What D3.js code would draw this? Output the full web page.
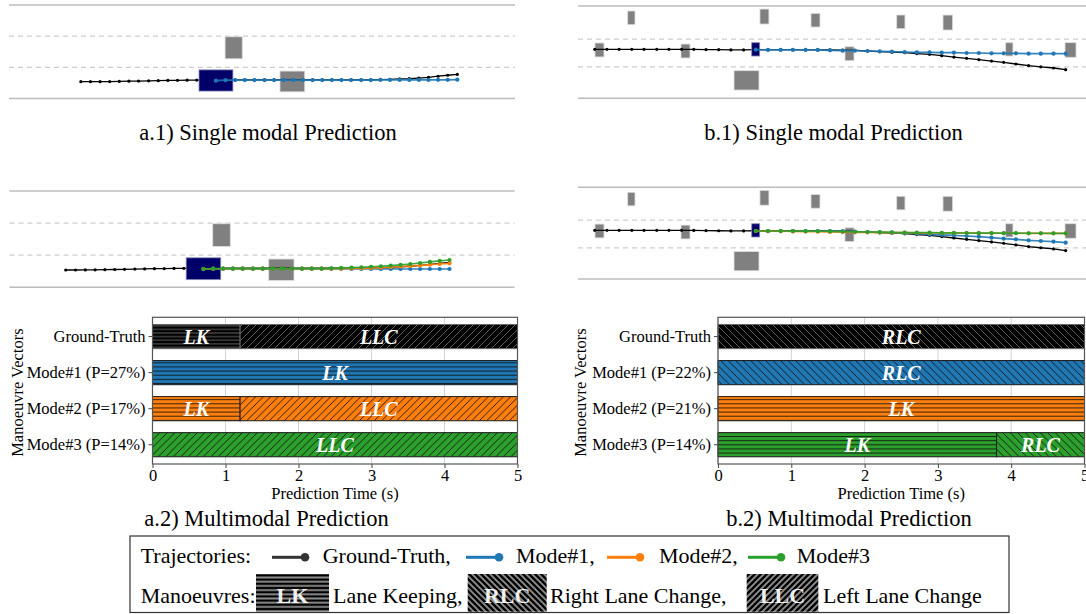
<!DOCTYPE html>
<html>
<head>
<meta charset="utf-8">
<script src="https://cdn.jsdelivr.net/npm/d3@7"></script>
<style>
  body { margin: 0; background: #fff; }
  svg { display: block; }
  text { font-family: "Liberation Serif", "Times New Roman", serif; fill: #000; }
</style>
</head>
<body>
<svg id="fig" width="1086" height="614"></svg>
<script>
// ---------- case a (left column), metres along road / lateral metres ----------
const lanesA = [0, 3.75, 7.5, 11.25];
const carsA = [
  {x: 44.4, y: 6.1, l: 3.4, w: 2.65},
  {x: 56.0, y: 2.05, l: 4.9, w: 2.5}
];
const egoA = {x: 40.9, y: 2.17, l: 6.7, w: 2.55};
const histXA = [14.2, 16.1, 18.0, 19.9, 21.8, 23.7, 25.6, 27.6, 29.5, 31.4, 33.3, 35.2, 37.1, 39.0];
const histYA = [2.02, 2.02, 2.03, 2.04, 2.06, 2.08, 2.10, 2.13, 2.15, 2.17, 2.19, 2.21, 2.22, 2.23];
const predXA = [40.9, 42.8, 44.7, 46.6, 48.5, 50.5, 52.4, 54.3, 56.2, 58.1, 60.0, 61.9, 63.8,
                65.7, 67.6, 69.6, 71.5, 73.4, 75.3, 77.2, 79.1, 81.0, 82.9, 84.8, 86.7, 88.6];
const gtYA = [2.23, 2.23, 2.23, 2.23, 2.23, 2.23, 2.23, 2.23, 2.23, 2.23, 2.23, 2.24, 2.24,
              2.24, 2.24, 2.25, 2.25, 2.27, 2.31, 2.35, 2.39, 2.46, 2.55, 2.68, 2.80, 2.90];
const singleYA = [2.14, 2.20, 2.22, 2.22, 2.22, 2.22, 2.22, 2.22, 2.22, 2.22, 2.22, 2.22, 2.22,
                  2.22, 2.22, 2.22, 2.22, 2.23, 2.23, 2.23, 2.24, 2.24, 2.24, 2.25, 2.25, 2.26];
const mode1YA = [2.14, 2.16, 2.16, 2.16, 2.16, 2.16, 2.16, 2.16, 2.16, 2.16, 2.16, 2.16, 2.16,
                 2.16, 2.16, 2.15, 2.15, 2.15, 2.15, 2.15, 2.14, 2.14, 2.14, 2.14, 2.14, 2.14];
const mode2YA = [2.14, 2.17, 2.17, 2.17, 2.17, 2.17, 2.17, 2.17, 2.17, 2.17, 2.17, 2.17, 2.17,
                 2.17, 2.18, 2.20, 2.22, 2.25, 2.30, 2.36, 2.43, 2.50, 2.57, 2.64, 2.72, 2.80];
const mode3YA = [2.14, 2.18, 2.18, 2.18, 2.18, 2.18, 2.18, 2.18, 2.18, 2.18, 2.18, 2.18, 2.18,
                 2.22, 2.26, 2.30, 2.34, 2.40, 2.46, 2.54, 2.62, 2.72, 2.84, 2.96, 3.08, 3.19];

// ---------- case b (right column) ----------
const lanesB = [0, 3.6, 6.8, 10.6];
const carsB = [
  {x: 10.5, y: 9.24, l: 1.44, w: 1.57},
  {x: 36.7, y: 9.39, l: 1.77, w: 1.72},
  {x: 46.75, y: 8.97, l: 1.77, w: 1.57},
  {x: 63.55, y: 8.78, l: 1.63, w: 1.57},
  {x: 72.8, y: 8.70, l: 1.9, w: 1.72},
  {x: 4.23, y: 5.55, l: 1.77, w: 1.6},
  {x: 21.16, y: 5.43, l: 1.77, w: 1.6},
  {x: 53.44, y: 5.12, l: 1.77, w: 1.6},
  {x: 84.9, y: 5.62, l: 1.44, w: 1.53},
  {x: 96.95, y: 5.55, l: 2.17, w: 1.68},
  {x: 33.17, y: 2.06, l: 4.92, w: 2.22}
];
const egoB = {x: 34.98, y: 5.62, l: 1.57, w: 1.53};
const histXB = [3.3, 5.7, 8.1, 10.6, 13.0, 15.5, 17.9, 20.4, 22.8, 25.2, 27.7, 30.1, 32.6];
const histYB = [5.63, 5.63, 5.63, 5.63, 5.63, 5.63, 5.63, 5.63, 5.62, 5.60, 5.58, 5.56, 5.56];
const predXB = [35.0, 37.4, 39.9, 42.3, 44.8, 47.2, 49.6, 52.1, 54.5, 57.0, 59.4, 61.8, 64.3,
                66.7, 69.2, 71.6, 74.0, 76.5, 78.9, 81.4, 83.8, 86.2, 88.7, 91.1, 93.6, 96.0];
const gtYB = [5.58, 5.58, 5.58, 5.58, 5.55, 5.55, 5.55, 5.53, 5.51, 5.43, 5.35, 5.30, 5.24,
              5.14, 5.05, 4.90, 4.74, 4.59, 4.44, 4.28, 4.13, 3.94, 3.75, 3.61, 3.48, 3.29];
const singleYB = [5.58, 5.56, 5.55, 5.55, 5.55, 5.55, 5.51, 5.47, 5.47, 5.43, 5.39, 5.35, 5.32,
                  5.28, 5.28, 5.24, 5.24, 5.20, 5.20, 5.16, 5.16, 5.16, 5.12, 5.12, 5.12, 5.12];
const mode1YB = [5.55, 5.53, 5.53, 5.53, 5.53, 5.53, 5.53, 5.51, 5.47, 5.43, 5.39, 5.36, 5.28,
                 5.24, 5.16, 5.09, 5.05, 4.97, 4.89, 4.78, 4.66, 4.59, 4.47, 4.39, 4.32, 4.20];
const mode2YB = [5.55, 5.54, 5.52, 5.50, 5.48, 5.46, 5.44, 5.42, 5.40, 5.39, 5.37, 5.36, 5.35,
                 5.34, 5.33, 5.32, 5.31, 5.31, 5.30, 5.30, 5.29, 5.29, 5.28, 5.28, 5.28, 5.28];
const mode3YB = [5.55, 5.55, 5.55, 5.54, 5.53, 5.52, 5.50, 5.48, 5.45, 5.43, 5.41, 5.39, 5.37,
                 5.36, 5.35, 5.34, 5.33, 5.32, 5.31, 5.31, 5.30, 5.30, 5.29, 5.29, 5.28, 5.28];

// ---------- manoeuvre vectors ----------
const rowsA = ['Ground-Truth', 'Mode#1 (P=27%)', 'Mode#2 (P=17%)', 'Mode#3 (P=14%)'];
const segsA = [
  [[0, 1.2, 'LK'], [1.2, 5, 'LLC']],
  [[0, 5, 'LK']],
  [[0, 1.2, 'LK'], [1.2, 5, 'LLC']],
  [[0, 5, 'LLC']]
];
const rowsB = ['Ground-Truth', 'Mode#1 (P=22%)', 'Mode#2 (P=21%)', 'Mode#3 (P=14%)'];
const segsB = [
  [[0, 5, 'RLC']],
  [[0, 5, 'RLC']],
  [[0, 5, 'LK']],
  [[0, 3.8, 'LK'], [3.8, 5, 'RLC']]
];
const timeTicks = [0, 1, 2, 3, 4, 5];
const rowColors = ['#000000', '#1f77b4', '#ff7f0e', '#2ca02c'];

// ---------- legend ----------
const trajLabels = ['Ground-Truth,', 'Mode#1,', 'Mode#2,', 'Mode#3'];
const trajColors = ['#333333', '#1f77b4', '#ff7f0e', '#2ca02c'];
const manCodes = ['LK', 'RLC', 'LLC'];
const manNames = ['Lane Keeping,', 'Right Lane Change,', 'Left Lane Change'];

const svg = d3.select('#fig');
const defs = svg.append('defs');

// hatch patterns: LK horizontal, LLC "/", RLC "\"
function makePattern(id, bg, fg, man, sw, hp, dp) {
  const p = man === 'LK' ? hp : dp;
  const pat = defs.append('pattern').attr('id', id)
    .attr('patternUnits', 'userSpaceOnUse').attr('width', p).attr('height', p);
  pat.append('rect').attr('width', p).attr('height', p).attr('fill', bg);
  let d;
  if (man === 'LK') d = `M0,${p / 2}H${p}`;
  else if (man === 'LLC') d = `M0,${p}L${p},0M${-p / 2},${p / 2}L${p / 2},${-p / 2}M${p / 2},${p * 1.5}L${p * 1.5},${p / 2}`;
  else d = `M0,0L${p},${p}M${-p / 2},${p / 2}L${p / 2},${p * 1.5}M${p / 2},${-p / 2}L${p * 1.5},${p / 2}`;
  pat.append('path').attr('d', d).attr('stroke', fg).attr('stroke-width', sw).attr('fill', 'none');
}
rowColors.forEach((c, i) => {
  manCodes.forEach(m => {
    if (i === 0) makePattern(`p-${m}-${i}`, c, '#6a6a6a', m, 0.9, 3.6, 7);
    else makePattern(`p-${m}-${i}`, c, '#111', m, 0.9, 4.1, 7.5);
  });
});
manCodes.forEach(m => makePattern(`leg-${m}`, '#000', '#8e8e8e', m, 1.9, 4.2, 6));

// ---------- road scene ----------
function scene(cfg) {
  const g = svg.append('g');
  const x = d3.scaleLinear().domain(cfg.xDom).range(cfg.xRange);
  const y = d3.scaleLinear().domain([0, cfg.lanes[cfg.lanes.length - 1]]).range(cfg.yRange);
  const last = cfg.lanes.length - 1;

  g.selectAll('line.lane').data(cfg.lanes).join('line')
    .attr('x1', cfg.xRange[0]).attr('x2', cfg.xRange[1])
    .attr('y1', d => y(d)).attr('y2', d => y(d))
    .attr('stroke', (d, i) => (i === 0 || i === last) ? '#bcbcbc' : '#cdcdcd')
    .attr('stroke-width', (d, i) => (i === 0 || i === last) ? 1.5 : 1.2)
    .attr('stroke-dasharray', (d, i) => (i === 0 || i === last) ? null : '5,4');

  const box = sel => sel
    .attr('x', d => x(d.x - d.l / 2)).attr('y', d => y(d.y + d.w / 2))
    .attr('width', d => x(d.x + d.l / 2) - x(d.x - d.l / 2))
    .attr('height', d => y(d.y - d.w / 2) - y(d.y + d.w / 2));

  g.selectAll('rect.car').data(cfg.cars).join('rect').call(box)
    .attr('fill', '#808080').attr('stroke', '#dedede').attr('stroke-width', 0.8);

  const line = d3.line().x(d => x(d[0])).y(d => y(d[1]));
  const gt = cfg.histX.map((v, i) => [v, cfg.histY[i]])
    .concat(cfg.predX.map((v, i) => [v, cfg.gtY[i]]));
  g.append('path').attr('d', line(gt)).attr('fill', 'none')
    .attr('stroke', '#000').attr('stroke-width', 1.3);
  g.selectAll('circle.gt').data(gt).join('circle')
    .attr('cx', d => x(d[0])).attr('cy', d => y(d[1])).attr('r', 1.6).attr('fill', '#000');

  g.append('rect').datum(cfg.ego).call(box)
    .attr('fill', '#000068').attr('stroke', '#8a8ab8').attr('stroke-width', 0.8);

  cfg.preds.forEach(p => {
    const pts = cfg.predX.map((v, i) => [v, p.y[i]]);
    g.append('path').attr('d', line(pts)).attr('fill', 'none')
      .attr('stroke', p.color).attr('stroke-width', 1.7).attr('stroke-opacity', 0.9);
    g.selectAll(null).data(pts).join('circle')
      .attr('cx', d => x(d[0])).attr('cy', d => y(d[1])).attr('r', 2.1).attr('fill', p.color);
  });
}

scene({xDom: [0, 100], xRange: [9, 515], yRange: [98.5, 5], lanes: lanesA, cars: carsA, ego: egoA,
  histX: histXA, histY: histYA, predX: predXA, gtY: gtYA,
  preds: [{y: singleYA, color: rowColors[1]}]});
scene({xDom: [3.3, 101.2], xRange: [9.5, 514.5], yRange: [287.3, 191], lanes: lanesA, cars: carsA, ego: egoA,
  histX: histXA, histY: histYA, predX: predXA, gtY: gtYA,
  preds: [{y: mode1YA, color: rowColors[1]}, {y: mode2YA, color: rowColors[2]}, {y: mode3YA, color: rowColors[3]}]});
scene({xDom: [0, 100], xRange: [578, 1086], yRange: [98.3, 6], lanes: lanesB, cars: carsB, ego: egoB,
  histX: histXB, histY: histYB, predX: predXB, gtY: gtYB,
  preds: [{y: singleYB, color: rowColors[1]}]});
scene({xDom: [0, 100], xRange: [578, 1086], yRange: [279, 187.3], lanes: lanesB, cars: carsB, ego: egoB,
  histX: histXB, histY: histYB, predX: predXB, gtY: gtYB,
  preds: [{y: mode1YB, color: rowColors[1]}, {y: mode2YB, color: rowColors[2]}, {y: mode3YB, color: rowColors[3]}]});

// ---------- manoeuvre bar charts ----------
function bars(cfg) {
  const g = svg.append('g');
  const top = 317.3, bottom = 464;
  const x = d3.scaleLinear().domain([0, 5]).range(cfg.xRange);
  const y = d3.scaleBand().domain(cfg.rows).range([top, bottom]).paddingInner(0.33).paddingOuter(0.2);

  g.selectAll('line.grid').data(timeTicks).join('line')
    .attr('x1', d => x(d)).attr('x2', d => x(d)).attr('y1', top).attr('y2', bottom)
    .attr('stroke', '#d4d4d4').attr('stroke-width', 1);

  cfg.rows.forEach((r, i) => {
    const row = g.append('g');
    row.selectAll('rect').data(cfg.segs[i]).join('rect')
      .attr('x', d => x(d[0])).attr('width', d => x(d[1]) - x(d[0]))
      .attr('y', y(r)).attr('height', y.bandwidth())
      .attr('fill', d => `url(#p-${d[2]}-${i})`)
      .attr('stroke', i === 0 ? '#666' : '#1a1a1a').attr('stroke-width', 1);
    row.selectAll('text').data(cfg.segs[i]).join('text')
      .attr('x', d => x((d[0] + d[1]) / 2)).attr('y', y(r) + y.bandwidth() / 2)
      .attr('dy', '0.36em').attr('text-anchor', 'middle')
      .attr('font-size', 20).attr('font-weight', 'bold').attr('font-style', 'italic')
      .style('fill', '#fff').text(d => d[2]);
  });

  const ax = g.append('g').attr('transform', `translate(0,${bottom})`)
    .call(d3.axisBottom(x).tickValues(timeTicks).tickSize(4).tickPadding(1).tickFormat(d3.format('d')));
  ax.select('.domain').remove();
  ax.selectAll('line').attr('stroke', '#444');
  ax.selectAll('text').attr('font-size', 16.5).attr('font-family', null);

  const ay = g.append('g').attr('transform', `translate(${cfg.xRange[0]},0)`)
    .call(d3.axisLeft(y).tickSize(4).tickPadding(3));
  ay.select('.domain').remove();
  ay.selectAll('line').attr('stroke', '#444');
  ay.selectAll('text').attr('font-size', 16.5).attr('font-family', null);

  g.append('rect').attr('x', cfg.xRange[0]).attr('y', top)
    .attr('width', cfg.xRange[1] - cfg.xRange[0]).attr('height', bottom - top)
    .attr('fill', 'none').attr('stroke', '#555').attr('stroke-width', 1.2);

  g.append('text').attr('x', (cfg.xRange[0] + cfg.xRange[1]) / 2).attr('y', 499)
    .attr('text-anchor', 'middle').attr('font-size', 16.5).text('Prediction Time (s)');
  g.append('text').attr('transform', `translate(${cfg.titleX},${(top + bottom) / 2 + 2}) rotate(-90)`)
    .attr('text-anchor', 'middle').attr('font-size', 16.5).text('Manoeuvre Vectors');
}
bars({xRange: [152.5, 517.5], rows: rowsA, segs: segsA, titleX: 22.5});
bars({xRange: [718, 1084.5], rows: rowsB, segs: segsB, titleX: 586});

// ---------- captions ----------
const captions = [
  ['a.1) Single modal Prediction', 268, 140],
  ['b.1) Single modal Prediction', 833.5, 140],
  ['a.2) Multimodal Prediction', 266.5, 526],
  ['b.2) Multimodal Prediction', 849, 526]
];
svg.selectAll('text.cap').data(captions).join('text').attr('class', 'cap')
  .attr('x', d => d[1]).attr('y', d => d[2]).attr('text-anchor', 'middle')
  .attr('font-size', 22.5).text(d => d[0]);

// ---------- legend ----------
const leg = svg.append('g');
leg.append('rect').attr('x', 130).attr('y', 536).attr('width', 879).attr('height', 76.5)
  .attr('fill', '#fff').attr('stroke', '#333').attr('stroke-width', 1.2);
const row1 = 563.3, row2 = 602.5;
leg.append('text').attr('x', 140.7).attr('y', row1).attr('font-size', 22).text('Trajectories:');
const trajKeyX = [272, 466, 607, 748];
const trajTextX = [322.7, 516, 659, 796.7];
trajLabels.forEach((t, i) => {
  leg.append('line').attr('x1', trajKeyX[i]).attr('x2', trajKeyX[i] + 32)
    .attr('y1', row1 - 6).attr('y2', row1 - 6)
    .attr('stroke', trajColors[i]).attr('stroke-width', 3);
  leg.append('circle').attr('cx', trajKeyX[i] + 33).attr('cy', row1 - 6).attr('r', 4.3)
    .attr('fill', trajColors[i]);
  leg.append('text').attr('x', trajTextX[i]).attr('y', row1).attr('font-size', 22).text(t);
});
leg.append('text').attr('x', 140.7).attr('y', row2).attr('font-size', 22).text('Manoeuvres:');
const manKeyX = [256, 467.7, 746.7];
const manKeyW = [73, 79, 71.6];
const manTextX = [333, 550, 823];
manCodes.forEach((m, i) => {
  leg.append('rect').attr('x', manKeyX[i]).attr('y', 574).attr('width', manKeyW[i]).attr('height', 37.7)
    .attr('fill', `url(#leg-${m})`);
  leg.append('text').attr('x', manKeyX[i] + manKeyW[i] / 2).attr('y', row2)
    .attr('text-anchor', 'middle').attr('font-size', 22).attr('font-weight', 'bold')
    .style('fill', '#fff').style('opacity', 0.92).text(m);
  leg.append('text').attr('x', manTextX[i]).attr('y', row2).attr('font-size', 22).text(manNames[i]);
});
</script>
</body>
</html>
